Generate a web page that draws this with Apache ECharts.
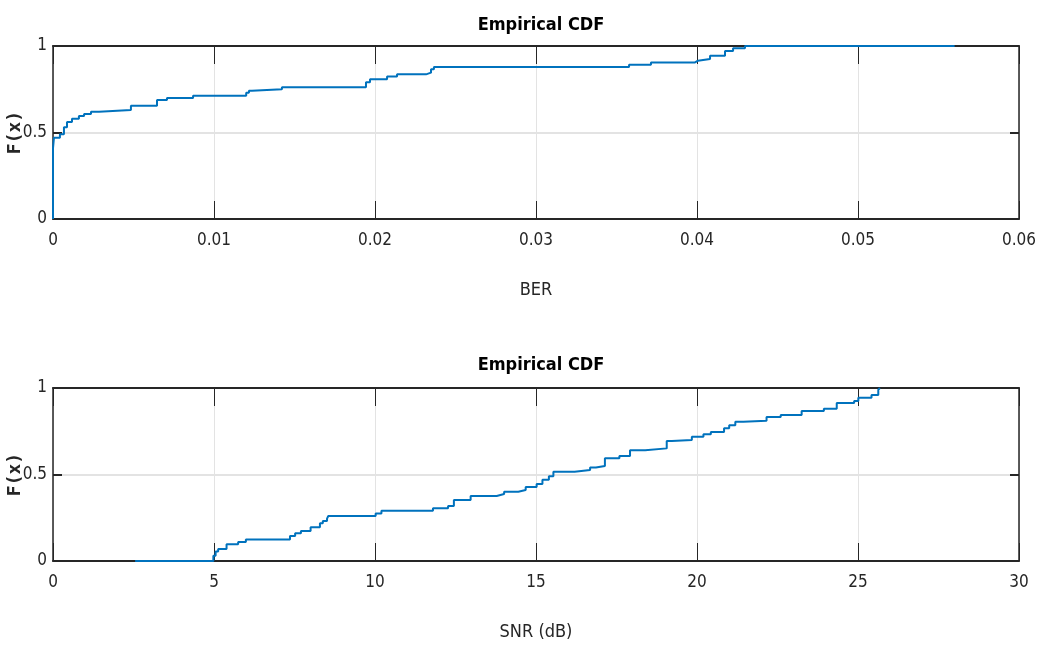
<!DOCTYPE html>
<html>
<head>
<meta charset="utf-8">
<title>Empirical CDF</title>
<script src="https://cdn.jsdelivr.net/npm/echarts@6/dist/echarts.min.js"></script>
<style>
  html, body { margin: 0; padding: 0; background: #ffffff; }
  #chart { width: 1040px; height: 647px; }
</style>
</head>
<body>
<div id="chart"></div>
<script>
// Empirical CDF of BER: jump locations and the CDF value after each jump
const berX = [0, 0, 0.00006, 0.00043, 0.00068, 0.00087, 0.00118, 0.00161, 0.00193, 0.00236, 0.00286,
  0.00484, 0.00646, 0.00708, 0.0087, 0.0120, 0.01217, 0.01236, 0.01422, 0.01944, 0.01969,
  0.02075, 0.02137, 0.02317, 0.02348, 0.02366, 0.03578, 0.03714, 0.03988, 0.04006, 0.04081,
  0.04174, 0.04224, 0.04298, 0.0560];
const berF = [0, 0.41, 0.47, 0.49, 0.53, 0.56, 0.58, 0.595, 0.607, 0.62, 0.63,
  0.655, 0.688, 0.70, 0.713, 0.73, 0.742, 0.75, 0.762, 0.79, 0.808,
  0.823, 0.836, 0.846, 0.865, 0.878, 0.892, 0.905, 0.915, 0.925, 0.944,
  0.971, 0.987, 1.0, 1.0];

// Empirical CDF of SNR (dB)
const snrX = [2.55, 4.98, 5.05, 5.13, 5.39, 5.75, 5.99, 7.36, 7.52, 7.70, 8.00, 8.29, 8.38, 8.51, 8.55,
  10.02, 10.20, 11.80, 12.27, 12.45, 12.97, 13.78, 14.01, 14.45, 14.68, 15.02, 15.20, 15.40, 15.54,
  16.20, 16.68, 16.86, 17.14, 17.59, 17.92, 18.39, 19.06, 19.22, 19.84, 20.20, 20.43, 20.84, 21.00,
  21.19, 21.44, 22.16, 22.60, 23.25, 23.94, 24.34, 24.88, 25.01, 25.42, 25.63, 25.68];
const snrF = [0, 0.03, 0.055, 0.07, 0.097, 0.11, 0.125, 0.145, 0.16, 0.173, 0.195, 0.218, 0.231, 0.245, 0.26,
  0.275, 0.29, 0.305, 0.318, 0.353, 0.376, 0.387, 0.40, 0.41, 0.428, 0.445, 0.47, 0.49, 0.516,
  0.526, 0.54, 0.549, 0.594, 0.607, 0.64, 0.651, 0.694, 0.699, 0.718, 0.732, 0.746, 0.767, 0.785,
  0.805, 0.81, 0.832, 0.844, 0.867, 0.88, 0.913, 0.925, 0.944, 0.96, 0.99, 1.0];

// Axis ranges and tick spacing
const berRange = { min: 0, max: 0.06, interval: 0.01 };
const snrRange = { min: 0, max: 30, interval: 5 };
const cdfRange = { min: 0, max: 1, interval: 0.5 };

const titleText = 'Empirical CDF';
const berName = 'BER';
const snrName = 'SNR (dB)';
const cdfName = 'F(x)';

const FONT = "'Liberation Sans Narrow', 'DejaVu Sans Condensed', 'Arial Narrow', 'Liberation Sans', sans-serif";
const INK = '#262626';
const GRID = '#e3e3e3';
const BLUE = '#0072BD';

const fmt = v => String(+(+v).toFixed(4));

function bottomX(gridIndex, range, name) {
  return {
    gridIndex, type: 'value', position: 'bottom',
    min: range.min, max: range.max, interval: range.interval,
    name, nameLocation: 'middle', nameGap: 62, nameMoveOverlap: false,
    nameTextStyle: { fontFamily: FONT, fontSize: 18, color: INK },
    axisLine: { show: true, onZero: false, lineStyle: { color: INK, width: 2 } },
    axisTick: { show: true, inside: true, length: 18, lineStyle: { color: INK, width: 1 } },
    axisLabel: { show: true, margin: 13, formatter: fmt, fontFamily: FONT, fontSize: 17, color: INK },
    splitLine: { show: true, lineStyle: { color: GRID, width: 1 } }
  };
}
function topX(gridIndex, range) {
  return {
    gridIndex, type: 'value', position: 'top',
    min: range.min, max: range.max, interval: range.interval,
    axisLine: { show: true, onZero: false, lineStyle: { color: INK, width: 2 } },
    axisTick: { show: true, inside: true, length: 18, lineStyle: { color: INK, width: 1 } },
    axisLabel: { show: false },
    splitLine: { show: false }
  };
}
function leftY(gridIndex) {
  return {
    gridIndex, type: 'value', position: 'left',
    min: cdfRange.min, max: cdfRange.max, interval: cdfRange.interval,
    name: cdfName, nameLocation: 'middle', nameGap: 29, nameRotate: 90, nameMoveOverlap: false,
    nameTextStyle: { fontFamily: "'DejaVu Sans Mono', monospace", fontWeight: 'bold', fontSize: 18, color: INK },
    axisLine: { show: true, onZero: false, lineStyle: { color: INK, width: 1.5 } },
    axisTick: { show: true, inside: true, length: 9, lineStyle: { color: INK, width: 2 } },
    axisLabel: { show: true, margin: 6, formatter: fmt, fontFamily: FONT, fontSize: 17, color: INK },
    splitLine: { show: true, lineStyle: { color: GRID, width: 2 } }
  };
}
function rightY(gridIndex) {
  return {
    gridIndex, type: 'value', position: 'right',
    min: cdfRange.min, max: cdfRange.max, interval: cdfRange.interval,
    axisLine: { show: true, onZero: false, lineStyle: { color: INK, width: 1.5 } },
    axisTick: { show: true, inside: true, length: 9, lineStyle: { color: INK, width: 2 } },
    axisLabel: { show: false },
    splitLine: { show: false }
  };
}

const pairs = (xs, ys) => xs.map((x, i) => [x, ys[i]]);

const chart = echarts.init(document.getElementById('chart'), null, { renderer: 'canvas' });
chart.setOption({
  backgroundColor: '#ffffff',
  animation: false,
  title: [
    { text: titleText, left: 536, top: 11, textAlign: 'center',
      textStyle: { fontFamily: FONT, fontWeight: 'bold', fontSize: 18, color: '#000000' } },
    { text: titleText, left: 536, top: 351, textAlign: 'center',
      textStyle: { fontFamily: FONT, fontWeight: 'bold', fontSize: 18, color: '#000000' } }
  ],
  grid: [
    { left: 53, right: 21, top: 46, height: 173, outerBoundsMode: 'none' },
    { left: 53, right: 21, top: 388, height: 173, outerBoundsMode: 'none' }
  ],
  xAxis: [bottomX(0, berRange, berName), topX(0, berRange), bottomX(1, snrRange, snrName), topX(1, snrRange)],
  yAxis: [leftY(0), rightY(0), leftY(1), rightY(1)],
  series: [
    { name: berName, type: 'line', step: 'end', xAxisIndex: 0, yAxisIndex: 0,
      showSymbol: false, symbol: 'none', lineStyle: { color: BLUE, width: 2 },
      data: pairs(berX, berF) },
    { name: snrName, type: 'line', step: 'end', xAxisIndex: 2, yAxisIndex: 2,
      showSymbol: false, symbol: 'none', lineStyle: { color: BLUE, width: 2 },
      data: pairs(snrX, snrF) }
  ]
});
</script>
</body>
</html>
